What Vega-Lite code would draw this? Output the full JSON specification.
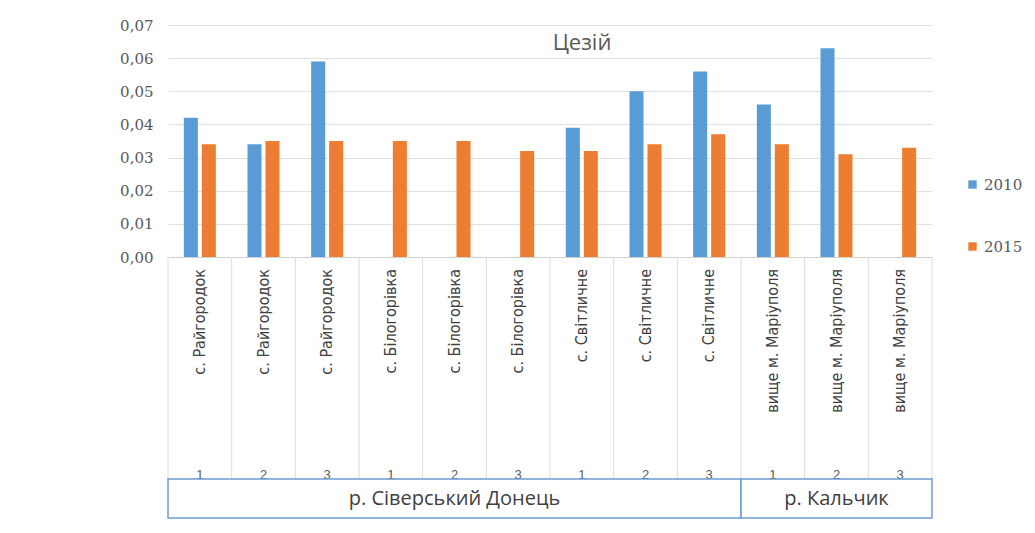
{
  "$schema": "https://vega.github.io/schema/vega-lite/v6.json",
  "autosize": {"type": "pad"},
  "padding": {"left": 119, "top": 18, "right": 0, "bottom": 0},
  "background": "white",
  "bounds": "flush",
  "datasets": {
    "values": [
      {"id": 1, "year": "2010", "cs": 0.042},
      {"id": 1, "year": "2015", "cs": 0.034},
      {"id": 2, "year": "2010", "cs": 0.034},
      {"id": 2, "year": "2015", "cs": 0.035},
      {"id": 3, "year": "2010", "cs": 0.059},
      {"id": 3, "year": "2015", "cs": 0.035},
      {"id": 4, "year": "2015", "cs": 0.035},
      {"id": 5, "year": "2015", "cs": 0.035},
      {"id": 6, "year": "2015", "cs": 0.032},
      {"id": 7, "year": "2010", "cs": 0.039},
      {"id": 7, "year": "2015", "cs": 0.032},
      {"id": 8, "year": "2010", "cs": 0.050},
      {"id": 8, "year": "2015", "cs": 0.034},
      {"id": 9, "year": "2010", "cs": 0.056},
      {"id": 9, "year": "2015", "cs": 0.037},
      {"id": 10, "year": "2010", "cs": 0.046},
      {"id": 10, "year": "2015", "cs": 0.034},
      {"id": 11, "year": "2010", "cs": 0.063},
      {"id": 11, "year": "2015", "cs": 0.031},
      {"id": 12, "year": "2015", "cs": 0.033}
    ],
    "sites": [
      {"id": 1, "site": "с. Райгородок", "num": "1"},
      {"id": 2, "site": "с. Райгородок", "num": "2"},
      {"id": 3, "site": "с. Райгородок", "num": "3"},
      {"id": 4, "site": "с. Білогорівка", "num": "1"},
      {"id": 5, "site": "с. Білогорівка", "num": "2"},
      {"id": 6, "site": "с. Білогорівка", "num": "3"},
      {"id": 7, "site": "с. Світличне", "num": "1"},
      {"id": 8, "site": "с. Світличне", "num": "2"},
      {"id": 9, "site": "с. Світличне", "num": "3"},
      {"id": 10, "site": "вище м. Маріуполя", "num": "1"},
      {"id": 11, "site": "вище м. Маріуполя", "num": "2"},
      {"id": 12, "site": "вище м. Маріуполя", "num": "3"}
    ],
    "rivers": [
      {"river": "р. Сіверський Донець", "first": 1, "last": 9, "middle": 5},
      {"river": "р. Кальчик", "first": 10, "last": 12, "middle": 11}
    ]
  },
  "config": {
    "view": {"stroke": null},
    "axis": {"labelFont": "DejaVu Serif", "labelColor": "#595959"}
  },
  "spacing": 0,
  "vconcat": [
    {
      "width": 764,
      "height": 232,
      "title": {
        "text": "Цезій",
        "font": "Open Sans",
        "fontSize": 22,
        "fontWeight": "normal",
        "color": "#595959",
        "anchor": "middle",
        "frame": "group",
        "offset": -37,
        "dx": 32
      },
      "data": {"name": "values"},
      "mark": {"type": "bar"},
      "encoding": {
        "x": {
          "field": "id",
          "type": "ordinal",
          "scale": {"domain": [1, 2, 3, 4, 5, 6, 7, 8, 9, 10, 11, 12], "paddingInner": 0, "paddingOuter": 0},
          "axis": {"labels": false, "ticks": false, "title": null, "domainColor": "#d0d0d0", "domainWidth": 1}
        },
        "xOffset": {
          "field": "year",
          "scale": {"domain": ["2010", "2015"], "paddingInner": 0.22, "paddingOuter": 0.88}
        },
        "y": {
          "field": "cs",
          "type": "quantitative",
          "scale": {"domain": [0, 0.07]},
          "axis": {
            "values": [0, 0.01, 0.02, 0.03, 0.04, 0.05, 0.06, 0.07],
            "labelExpr": "replace(format(datum.value, '.2f'), '.', ',')",
            "labelFontSize": 15,
            "labelPadding": 15,
            "domain": false,
            "ticks": false,
            "title": null,
            "gridColor": "#e0e0e0",
            "gridWidth": 1
          }
        },
        "color": {
          "field": "year",
          "type": "nominal",
          "scale": {"domain": ["2010", "2015"], "range": ["#5B9BD5", "#ED7D31"]},
          "legend": {
            "title": null,
            "orient": "none",
            "legendX": 797,
            "legendY": 152,
            "symbolType": "square",
            "symbolSize": 70,
            "symbolStrokeWidth": 0,
            "rowPadding": 46,
            "labelFont": "DejaVu Serif",
            "labelFontSize": 15,
            "labelColor": "#595959",
            "labelOffset": 4
          }
        }
      }
    },
    {
      "width": 764,
      "height": 222,
      "data": {"name": "sites"},
      "layer": [
        {
          "mark": {"type": "rule", "color": "#dcdcdc", "strokeWidth": 1},
          "encoding": {
            "x": {
              "field": "id",
              "type": "ordinal",
              "bandPosition": 0,
              "scale": {"domain": [1, 2, 3, 4, 5, 6, 7, 8, 9, 10, 11, 12], "paddingInner": 0, "paddingOuter": 0},
              "axis": null
            }
          }
        },
        {
          "transform": [{"filter": "datum.id == 12"}],
          "mark": {"type": "rule", "color": "#dcdcdc", "strokeWidth": 1},
          "encoding": {
            "x": {"field": "id", "type": "ordinal", "bandPosition": 1, "axis": null}
          }
        },
        {
          "mark": {
            "type": "text",
            "angle": 270,
            "align": "right",
            "baseline": "middle",
            "font": "DejaVu Sans Condensed, Liberation Sans",
            "fontSize": 16,
            "color": "#404040"
          },
          "encoding": {
            "x": {"field": "id", "type": "ordinal", "axis": null},
            "y": {"datum": "site", "type": "ordinal", "scale": {"type": "point", "domain": ["site", "num"], "range": [12, 218], "padding": 0}, "axis": null},
            "text": {"field": "site"}
          }
        },
        {
          "mark": {
            "type": "text",
            "baseline": "middle",
            "font": "Liberation Sans",
            "fontSize": 13,
            "color": "#595959"
          },
          "encoding": {
            "x": {"field": "id", "type": "ordinal", "axis": null},
            "y": {"datum": "num", "type": "ordinal", "axis": null},
            "text": {"field": "num"}
          }
        }
      ]
    },
    {
      "width": 764,
      "height": 39,
      "data": {"name": "rivers"},
      "layer": [
        {
          "mark": {"type": "rect", "fill": "white", "stroke": "#6f9bcf", "strokeWidth": 1.5},
          "encoding": {
            "x": {
              "field": "first",
              "type": "ordinal",
              "bandPosition": 0,
              "scale": {"domain": [1, 2, 3, 4, 5, 6, 7, 8, 9, 10, 11, 12], "paddingInner": 0, "paddingOuter": 0},
              "axis": null
            },
            "x2": {"field": "last", "bandPosition": 1}
          }
        },
        {
          "mark": {
            "type": "text",
            "baseline": "middle",
            "font": "Open Sans",
            "fontSize": 20,
            "color": "#404040"
          },
          "encoding": {
            "x": {"field": "middle", "type": "ordinal", "axis": null},
            "text": {"field": "river"}
          }
        }
      ]
    }
  ]
}
